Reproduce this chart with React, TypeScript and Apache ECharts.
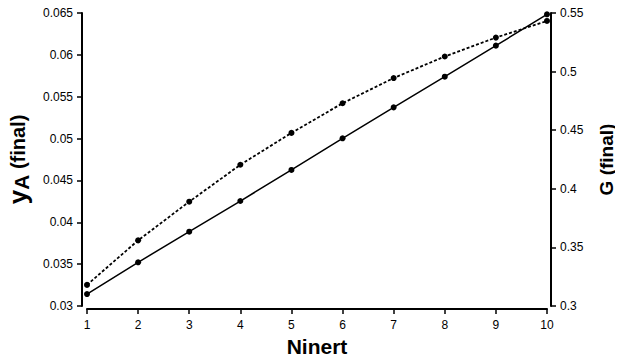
import React, { useEffect, useRef } from "react";
import * as echarts from "echarts";

const ninert = [1, 2, 3, 4, 5, 6, 7, 8, 9, 10];
const yAFinal = [0.03143, 0.03522, 0.03888, 0.04254, 0.04625, 0.05003, 0.05373, 0.05739, 0.0611, 0.06484];
const gFinal = [0.318, 0.356, 0.389, 0.4205, 0.4477, 0.473, 0.4945, 0.5129, 0.529, 0.5432];

const FONT = "Liberation Sans, Arial, sans-serif";

export default function App() {
  const ref = useRef<HTMLDivElement>(null);
  useEffect(() => {
    if (!ref.current) return;
    const chart = echarts.init(ref.current, null, { renderer: "svg" });
    const axisCommon = {
      axisLine: { show: true, lineStyle: { color: "#000", width: 2 } },
      axisTick: { show: true, length: 5, lineStyle: { color: "#000", width: 1.5 } },
      axisLabel: { color: "#000", fontSize: 12, fontFamily: FONT, margin: 9 },
      splitLine: { show: false },
    };
    chart.setOption({
      animation: false,
      backgroundColor: "#fff",
      grid: { left: 87, right: 76, top: 13, bottom: 56, outerBoundsMode: "none", containLabel: false },
      xAxis: {
        type: "value",
        min: 1,
        max: 10,
        interval: 1,
        offset: 3,
        name: "Ninert",
        nameLocation: "middle",
        nameGap: 26,
        nameTextStyle: { color: "#000", fontSize: 21, fontWeight: "bold", fontFamily: FONT },
        ...axisCommon,
        axisLabel: { ...axisCommon.axisLabel, margin: 10 },
      },
      yAxis: [
        {
          type: "value",
          position: "left",
          min: 0.03,
          max: 0.065,
          interval: 0.005,
          offset: 5,
          name: "{y|y}{a|A}{f| (final)}",
          nameLocation: "middle",
          nameGap: 47,
          nameRotate: 90,
          nameTextStyle: {
            color: "#000",
            fontFamily: FONT,
            fontWeight: "bold",
            rich: {
              y: { fontSize: 26, fontWeight: "bold", fontFamily: FONT, color: "#000" },
              a: { fontSize: 21, fontWeight: "bold", fontFamily: FONT, color: "#000", padding: [7, 0, 0, 0] },
              f: { fontSize: 20, fontWeight: "bold", fontFamily: FONT, color: "#000" },
            },
          },
          ...axisCommon,
        },
        {
          type: "value",
          position: "right",
          min: 0.3,
          max: 0.55,
          interval: 0.05,
          offset: 4,
          name: "G (final)",
          nameLocation: "middle",
          nameGap: 46,
          nameRotate: 90,
          nameTextStyle: { color: "#000", fontSize: 19, fontWeight: "bold", fontFamily: FONT },
          ...axisCommon,
        },
      ],
      series: [
        {
          type: "line",
          yAxisIndex: 0,
          data: ninert.map((x, i) => [x, yAFinal[i]]),
          symbol: "circle",
          symbolSize: 6,
          itemStyle: { color: "#000" },
          lineStyle: { color: "#000", width: 1.5 },
        },
        {
          type: "line",
          yAxisIndex: 1,
          data: ninert.map((x, i) => [x, gFinal[i]]),
          symbol: "circle",
          symbolSize: 6,
          itemStyle: { color: "#000" },
          lineStyle: { color: "#000", width: 1.8, type: [3, 2] },
        },
      ],
    });
    return () => chart.dispose();
  }, []);
  return <div ref={ref} style={{ width: 623, height: 362, margin: -8 }} />;
}
